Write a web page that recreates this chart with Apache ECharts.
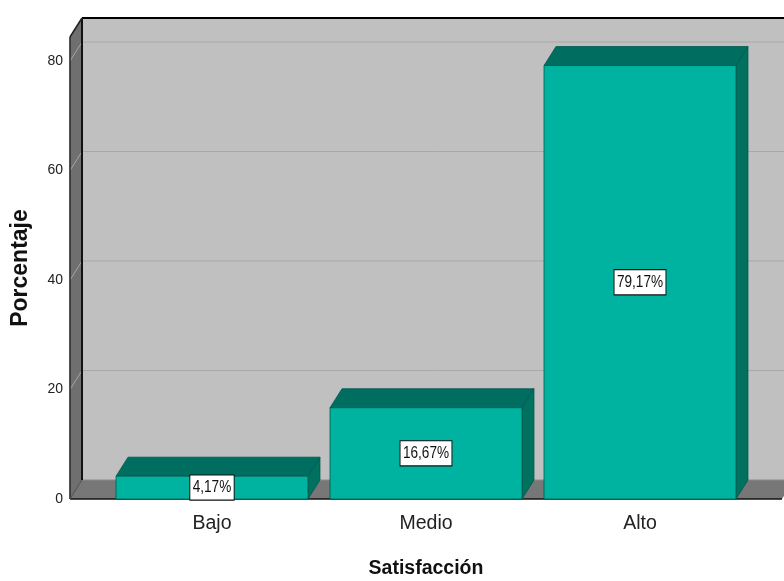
<!DOCTYPE html>
<html>
<head>
<meta charset="utf-8">
<script src="https://cdn.jsdelivr.net/npm/echarts@6/dist/echarts.min.js"></script>
<style>
html,body{margin:0;padding:0;background:#fff;}
#chart{width:784px;height:581px;}
</style>
</head>
<body>
<div id="chart"></div>
<script>
var categories = ['Bajo', 'Medio', 'Alto'];
var percentages = [4.17, 16.67, 79.17];
var yTicks = [0, 20, 40, 60, 80];
var xTitle = 'Satisfacción';
var yTitle = 'Porcentaje';

var DEPTH_X = 12, DEPTH_Y = -19;
var WALL_EXT = 35;

function fmt(v) { return v.toFixed(2).replace('.', ',') + '%'; }

var chart = echarts.init(document.getElementById('chart'), null, {renderer: 'canvas'});

function renderFrame(params, api) {
  var cs = params.coordSys;
  var fl = cs.x - WALL_EXT, fr = cs.x + cs.width + WALL_EXT;
  var y0 = api.coord([0, 0])[1];
  var yTop = api.coord([0, yTicks[yTicks.length - 1]])[1] - 24;
  var bl = fl + DEPTH_X, br = fr + DEPTH_X + 40;
  var by0 = y0 + DEPTH_Y, byTop = yTop + DEPTH_Y;
  var children = [];
  children.push({type: 'rect', shape: {x: bl, y: byTop, width: br - bl, height: by0 - byTop},
    style: {fill: '#c0c0c0'}});
  children.push({type: 'polygon', shape: {points: [[fl, yTop], [bl, byTop], [bl, by0], [fl, y0]]},
    style: {fill: '#6f6f6f', stroke: '#555', lineWidth: 1}});
  children.push({type: 'polygon', shape: {points: [[fl, y0], [bl, by0], [fr + DEPTH_X, by0], [fr, y0]]},
    style: {fill: '#777777'}});
  for (var i = 1; i < yTicks.length; i++) {
    var yy = api.coord([0, yTicks[i]])[1];
    children.push({type: 'line', shape: {x1: bl, y1: yy + DEPTH_Y, x2: br, y2: yy + DEPTH_Y},
      style: {stroke: '#a8a8a8', lineWidth: 1}});
    children.push({type: 'line', shape: {x1: fl, y1: yy, x2: bl, y2: yy + DEPTH_Y},
      style: {stroke: '#a5a5a5', lineWidth: 1}});
  }
  children.push({type: 'line', shape: {x1: bl, y1: by0, x2: br, y2: by0},
    style: {stroke: '#8c8c8c', lineWidth: 1}});
  children.push({type: 'line', shape: {x1: bl, y1: byTop, x2: br, y2: byTop},
    style: {stroke: '#000', lineWidth: 2}});
  children.push({type: 'line', shape: {x1: bl, y1: byTop, x2: bl, y2: by0},
    style: {stroke: '#111', lineWidth: 2}});
  children.push({type: 'line', shape: {x1: fl, y1: yTop, x2: bl, y2: byTop},
    style: {stroke: '#222', lineWidth: 1.5}});
  children.push({type: 'line', shape: {x1: fl, y1: yTop, x2: fl, y2: y0},
    style: {stroke: '#333', lineWidth: 1.5}});
  children.push({type: 'line', shape: {x1: fl, y1: y0, x2: fr, y2: y0},
    style: {stroke: '#111', lineWidth: 1.5}});
  children.push({type: 'line', shape: {x1: bl, y1: by0, x2: fl, y2: y0},
    style: {stroke: '#555', lineWidth: 1}});
  return {type: 'group', children: children};
}

function renderBar(params, api) {
  var ci = api.value(0), v = api.value(1);
  var top = api.coord([ci, v]);
  var bot = api.coord([ci, 0]);
  var w = api.size([1, 0])[0] * 0.897;
  var x1 = top[0] - w / 2, x2 = top[0] + w / 2;
  var yt = top[1], yb = bot[1];
  var edge = '#00584e';
  return {
    type: 'group',
    children: [
      {type: 'polygon', shape: {points: [[x2, yt], [x2 + DEPTH_X, yt + DEPTH_Y], [x2 + DEPTH_X, yb + DEPTH_Y], [x2, yb]]},
        style: {fill: '#00715f', stroke: edge, lineWidth: 0.8}},
      {type: 'polygon', shape: {points: [[x1, yt], [x1 + DEPTH_X, yt + DEPTH_Y], [x2 + DEPTH_X, yt + DEPTH_Y], [x2, yt]]},
        style: {fill: '#006d61', stroke: edge, lineWidth: 0.8}},
      {type: 'rect', shape: {x: x1, y: yt, width: w, height: yb - yt},
        style: {fill: '#00b3a0', stroke: edge, lineWidth: 0.8}},
      {type: 'text', x: top[0], y: (yt + yb) / 2, scaleX: 0.8,
        style: {text: fmt(v), fill: '#111', font: '17px "Liberation Sans", Arial, sans-serif',
          align: 'center', verticalAlign: 'middle', backgroundColor: '#ffffff', borderColor: '#111',
          borderWidth: 1.2, padding: [3, 3, 2, 3], lineHeight: 19}}
    ]
  };
}

chart.setOption({
  animation: false,
  backgroundColor: '#ffffff',
  grid: {left: 105, right: 37, top: 61, bottom: 82, containLabel: false, outerBoundsMode: 'none'},
  xAxis: {
    type: 'category', data: categories,
    name: xTitle, nameLocation: 'middle', nameGap: 60,
    nameTextStyle: {fontFamily: '"Liberation Sans", Arial, sans-serif', fontWeight: 'bold', fontSize: 19.5, color: '#111'},
    axisLine: {show: false}, axisTick: {show: false},
    axisLabel: {fontFamily: '"Liberation Sans", Arial, sans-serif', fontSize: 19.5, color: '#222', margin: 15}
  },
  yAxis: {
    type: 'value', min: 0, max: 80, interval: 20,
    name: yTitle, nameLocation: 'middle', nameGap: 73, nameRotate: 90,
    nameTextStyle: {fontFamily: '"Liberation Sans", Arial, sans-serif', fontWeight: 'bold', fontSize: 23, color: '#111',
      padding: [0, 0, 0, 24]},
    axisLine: {show: false}, axisTick: {show: false}, splitLine: {show: false},
    axisLabel: {fontFamily: '"Liberation Sans", Arial, sans-serif', fontSize: 14, color: '#222', margin: 42}
  },
  series: [
    {type: 'custom', renderItem: renderFrame, data: [[0, 0]], z: 1, clip: false, silent: true},
    {type: 'custom', renderItem: renderBar, z: 2, clip: false,
      data: categories.map(function (c, i) { return [i, percentages[i]]; })}
  ]
});
</script>
</body>
</html>
